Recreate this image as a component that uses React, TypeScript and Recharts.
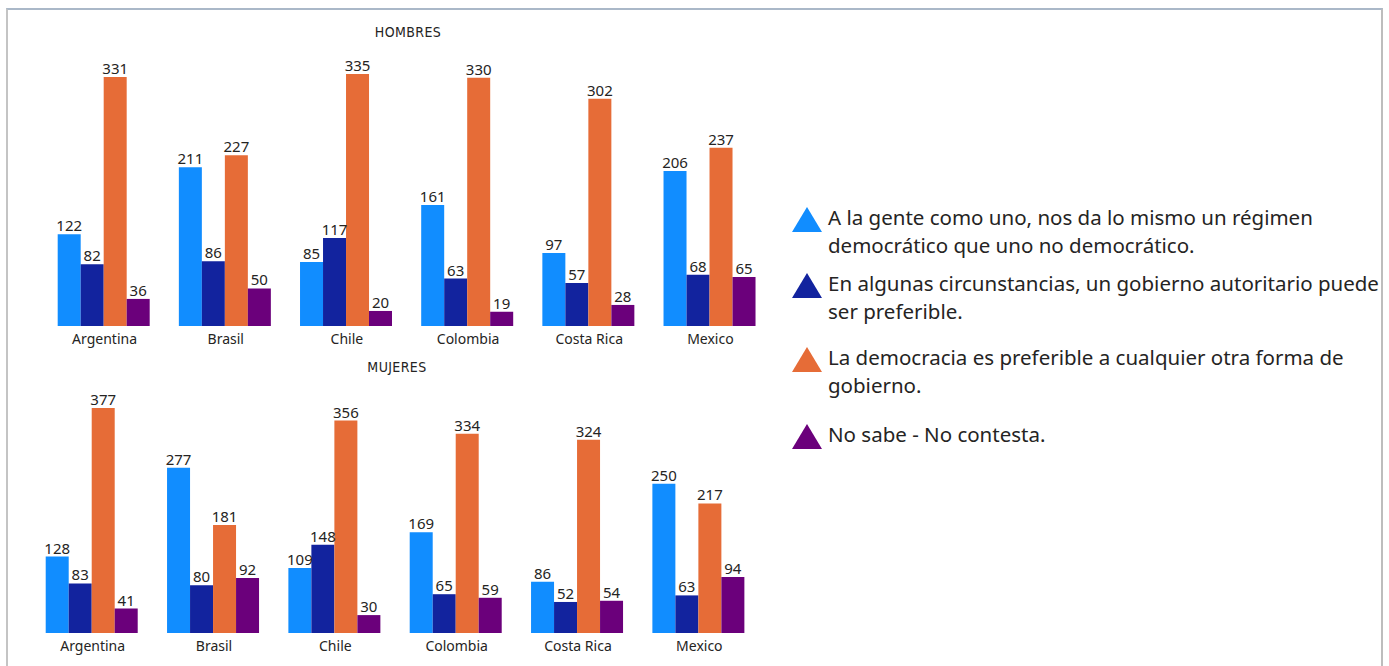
import React from "react";
import { BarChart, Bar, XAxis, YAxis, LabelList } from "recharts";

const countries = ["Argentina", "Brasil", "Chile", "Colombia", "Costa Rica", "Mexico"];
const seriesNames = [
  "A la gente como uno, nos da lo mismo un régimen democrático que uno no democrático.",
  "En algunas circunstancias, un gobierno autoritario puede ser preferible.",
  "La democracia es preferible a cualquier otra forma de gobierno.",
  "No sabe - No contesta.",
];
const seriesKeys = ["s1", "s2", "s3", "s4"];
const colors = ["#118DFF", "#12239E", "#E66C37", "#6B007B"];

const hombresS1 = [122, 211, 85, 161, 97, 206];
const hombresS2 = [82, 86, 117, 63, 57, 68];
const hombresS3 = [331, 227, 335, 330, 302, 237];
const hombresS4 = [36, 50, 20, 19, 28, 65];

const mujeresS1 = [128, 277, 109, 169, 86, 250];
const mujeresS2 = [83, 80, 148, 65, 52, 63];
const mujeresS3 = [377, 181, 356, 334, 324, 217];
const mujeresS4 = [41, 92, 30, 59, 54, 94];

const build = (a: number[], b: number[], c: number[], d: number[]) =>
  countries.map((name, i) => ({ name, s1: a[i], s2: b[i], s3: c[i], s4: d[i] }));

const hombres = build(hombresS1, hombresS2, hombresS3, hombresS4);
const mujeres = build(mujeresS1, mujeresS2, mujeresS3, mujeresS4);

const FONT = "'Segoe UI', 'Noto Sans', 'Open Sans', sans-serif";
const TITLE_FONT = "'DejaVu Sans Condensed', 'Noto Sans', sans-serif";
const TEXT = "#252423";
const legendGaps = [0, 10, 18, 21];

function Panel({ data, max, width, height, margin }: any) {
  return (
    <BarChart
      width={width}
      height={height}
      data={data}
      margin={margin}
      barGap={0}
      barCategoryGap="11.3%"
    >
      <XAxis
        dataKey="name"
        axisLine={false}
        tickLine={false}
        height={34}
        interval={0}
        tick={{ fill: TEXT, fontSize: 14, fontFamily: FONT }}
      />
      <YAxis hide domain={[0, max]} />
      {seriesKeys.map((k, i) => (
        <Bar key={k} dataKey={k} fill={colors[i]} isAnimationActive={false}>
          <LabelList
            dataKey={k}
            position="top"
            offset={3}
            fill={TEXT}
            fontSize={15}
            fontFamily={FONT}
          />
        </Bar>
      ))}
    </BarChart>
  );
}

export default function App() {
  return (
    <div
      style={{
        position: "fixed",
        left: 0,
        top: 0,
        width: 1389,
        height: 666,
        background: "#fff",
        overflow: "hidden",
        fontFamily: FONT,
      }}
    >
      <div
        style={{
          position: "absolute",
          left: 6,
          top: 8,
          width: 1373,
          height: 700,
          borderTop: "2px solid #aab8c8",
          borderLeft: "2px solid #c4c4c4",
          borderRight: "2px solid #bdbdbd",
        }}
      />
      <div
        style={{
          position: "absolute",
          left: 358,
          top: 24,
          width: 100,
          textAlign: "center",
          fontSize: 14,
          letterSpacing: 0.4,
          color: TEXT,
          fontFamily: TITLE_FONT,
        }}
      >
        HOMBRES
      </div>
      <div
        style={{
          position: "absolute",
          left: 347,
          top: 359,
          width: 100,
          textAlign: "center",
          fontSize: 14,
          letterSpacing: 0.4,
          color: TEXT,
          fontFamily: TITLE_FONT,
        }}
      >
        MUJERES
      </div>
      <div style={{ position: "absolute", left: 0, top: 0 }}>
        <Panel
          data={hombres}
          max={335}
          width={800}
          height={360}
          margin={{ top: 74, right: 29, bottom: 0, left: 44 }}
        />
      </div>
      <div style={{ position: "absolute", left: 0, top: 340 }}>
        <Panel
          data={mujeres}
          max={377}
          width={800}
          height={327}
          margin={{ top: 68, right: 40, bottom: 0, left: 32 }}
        />
      </div>
      <div
        style={{
          position: "absolute",
          left: 792,
          top: 203,
          width: 590,
          display: "flex",
          flexDirection: "column",
        }}
      >
        {seriesNames.map((n, i) => (
          <div
            key={n}
            style={{ display: "flex", alignItems: "flex-start", marginTop: legendGaps[i] }}
          >
            <svg width={36} height={30} style={{ flex: "0 0 auto", marginTop: 2 }}>
              <polygon points="0,27 15,2 30,27" fill={colors[i]} />
            </svg>
            <div
              style={{
                fontSize: 20.5,
                lineHeight: "28px",
                color: TEXT,
                width: 562,
              }}
            >
              {n}
            </div>
          </div>
        ))}
      </div>
    </div>
  );
}
